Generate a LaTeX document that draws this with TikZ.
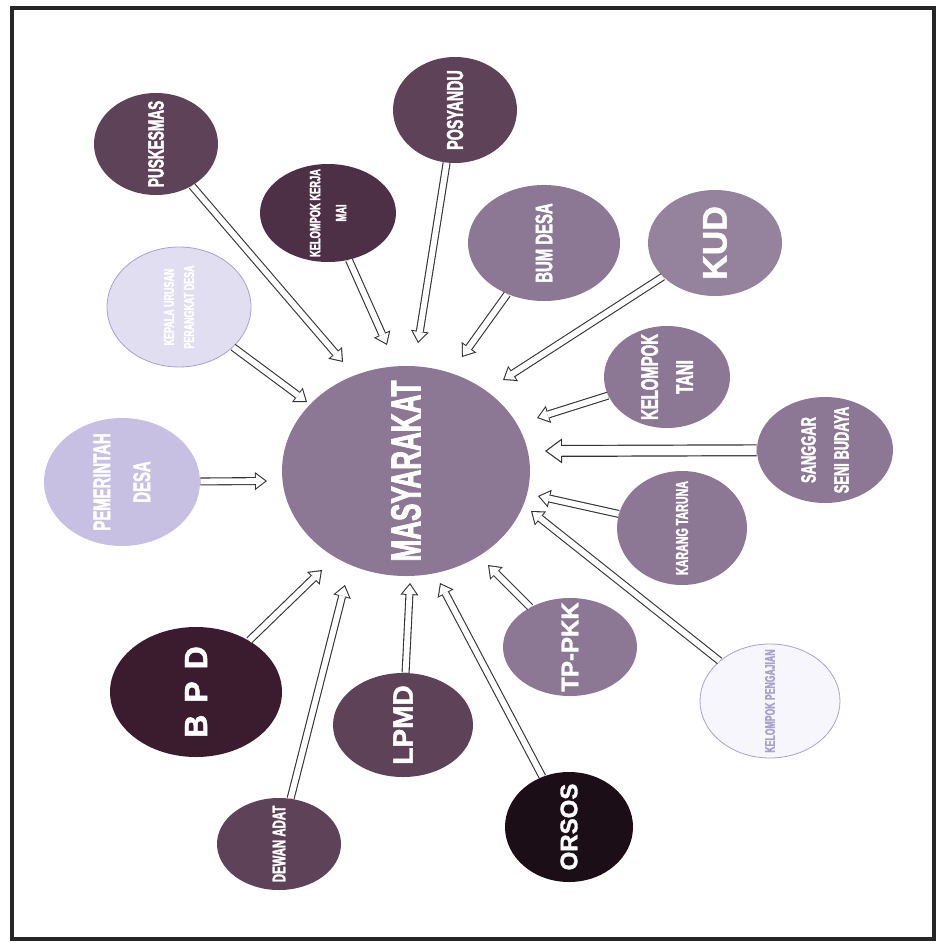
\documentclass[tikz,border=0pt]{standalone}
\usepackage{fontspec}
\usepackage{tikz}
\usetikzlibrary{shapes.geometric, arrows.meta}
\newfontfamily\narrowfont[UprightFont={* Bold}, FakeStretch=0.62, FakeBold=1.8]{Liberation Sans}
\newfontfamily\widefont[UprightFont={* Bold}, FakeBold=1.5]{Liberation Sans}
\definecolor{mauve}{RGB}{140,120,148}
\definecolor{darkmauve}{RGB}{94,66,88}
\definecolor{plum}{RGB}{78,48,70}
\definecolor{wine}{RGB}{58,28,46}
\definecolor{nearblack}{RGB}{28,14,22}
\definecolor{lav}{RGB}{200,192,226}
\definecolor{palelav}{RGB}{226,222,242}
\definecolor{whitelav}{RGB}{247,246,252}
\definecolor{rimlav}{RGB}{170,160,205}
\tikzset{
    org/.style={ellipse, inner sep=0pt, fill=#1}, % sets the filled ellipse of each body
    dims/.style 2 args={minimum width=#1pt, minimum height=#2pt}, % half axes in pixels
    txt/.style 2 args={rotate=90, align=center, inner sep=0pt, text=white, font=\narrowfont\fontsize{#1pt}{#2pt}\selectfont}, % upright narrow labels
    wtxt/.style={rotate=90, align=center, inner sep=0pt, text=white, font=\widefont\fontsize{#1pt}{#1pt}\selectfont}, % heavy labels
    hollow/.style={line width=4pt, draw=black!80, -{Triangle[width=9pt, length=6pt, line width=0pt]},
        postaction={draw=white, line width=2.9pt, -{Triangle[width=6.9pt, length=4.6pt, line width=0pt]}, shorten >=0.9pt}}, % white arrow with thin rim
    wide hollow/.style={line width=6pt, draw=black!80, -{Triangle[width=12.5pt, length=8.5pt, line width=0pt]},
        postaction={draw=white, line width=4.8pt, -{Triangle[width=10.1pt, length=6.9pt, line width=0pt]}, shorten >=1pt}},
}

\begin{document}
\begin{tikzpicture}[x=0.5pt, y=-0.5pt]
        \useasboundingbox (0,0) rectangle (940,943);
        \draw[line width=1.8pt, black!85] (12,8) rectangle (934,939);

        \node[org=mauve, dims={124}{105}, label={[txt={21}{24}]center:MASYARAKAT}] (masy) at (406,471) {};
        \node[org=darkmauve, dims={62}{51}, label={[txt={11}{13}]center:PUSKESMAS}] (pusk) at (156,144) {};
        \node[org=plum, dims={68}{49}, label={[txt={7.5}{13}]center:KELOMPOK KERJA\\MAI}] (pokja) at (328,213) {};
        \node[org=darkmauve, dims={62}{53}, label={[txt={11.5}{13}]center:POSYANDU}] (posy) at (455,110) {};
        \node[org=palelav, draw=rimlav, line width=0.4pt, dims={72}{60}, label={[txt={7.2}{10}]center:KEPALA URUSAN\\PERANGKAT DESA}] (kadus) at (179,307) {};
        \node[org=lav, dims={78}{64}, label={[txt={12}{20}]center:PEMERINTAH\\DESA}] (pemdes) at (122,482) {};
        \node[org=mauve, dims={76}{58}, label={[txt={12}{14}]center:BUM DESA}] (bumdes) at (544,243) {};
        \node[org=mauve!92!white, dims={67}{53}, label={[wtxt=17]center:KUD}] (kud) at (715,243) {};
        \node[org=mauve, dims={63}{51}, label={[txt={12}{17.5}]center:KELOMPOK\\TANI}] (tani) at (667,377) {};
        \node[org=mauve, dims={68}{53}, label={[txt={10.4}{16.5}]center:SANGGAR\\SENI BUDAYA}] (sanggar) at (825,450) {};
        \node[org=mauve, dims={65}{57}, label={[txt={8.6}{10}]center:KARANG TARUNA}] (karang) at (682,528) {};
        \node[org=whitelav, draw=rimlav, line width=0.4pt, dims={70}{57}, label={[txt={7}{9}, text=rimlav]center:KELOMPOK PENGAJIAN}] (pengajian) at (770,701) {};
        \node[org=mauve, dims={67}{49}, label={[wtxt=12]center:TP-PKK}] (tppkk) at (570,647) {};
        \node[org=nearblack, dims={64}{55}, label={[wtxt=12]center:ORSOS}] (orsos) at (569,827) {};
        \node[org=darkmauve, dims={70}{52}, label={[wtxt=14]center:LPMD}] (lpmd) at (403,725) {};
        \node[org=wine, dims={86}{65}, label={[wtxt=16]center:B\kern6pt P\kern6pt D}] (bpd) at (196,692) {};
        \node[org=darkmauve, dims={62}{46}, label={[txt={9.2}{11}]center:DEWAN ADAT}] (dewan) at (279,844) {};

        \coordinate (pusk-tip) at (343,362);
        \coordinate (pokja-tip) at (387,345);
        \coordinate (posy-tip) at (418,343);
        \coordinate (kadus-tip) at (307,402);
        \coordinate (pemdes-tip) at (267,481);
        \coordinate (bumdes-tip) at (462,357);
        \coordinate (kud-tip) at (503,380);
        \coordinate (tani-tip) at (537,418);
        \coordinate (sanggar-tip) at (545,451);
        \coordinate (karang-tip) at (538,496);
        \coordinate (pengajian-tip) at (531,511);
        \coordinate (tppkk-tip) at (488,565);
        \coordinate (orsos-tip) at (440,583);
        \coordinate (lpmd-tip) at (410,583);
        \coordinate (bpd-tip) at (322,570);
        \coordinate (dewan-tip) at (345,585);

        \draw[hollow] (pusk) -- (pusk-tip);
        \draw[hollow] (pokja) -- (pokja-tip);
        \draw[hollow] (posy) -- (posy-tip);
        \draw[hollow] (kadus) -- (kadus-tip);
        \draw[hollow] (pemdes) -- (pemdes-tip);
        \draw[hollow] (bumdes) -- (bumdes-tip);
        \draw[hollow] (kud) -- (kud-tip);
        \draw[hollow] (tani) -- (tani-tip);
        \draw[wide hollow] (sanggar) -- (sanggar-tip);
        \draw[hollow] (karang) -- (karang-tip);
        \draw[hollow] (pengajian) -- (pengajian-tip);
        \draw[hollow] (tppkk) -- (tppkk-tip);
        \draw[hollow] (orsos) -- (orsos-tip);
        \draw[hollow] (lpmd) -- (lpmd-tip);
        \draw[hollow] (bpd) -- (bpd-tip);
        \draw[hollow] (dewan) -- (dewan-tip);

    \end{tikzpicture}
\end{document}
